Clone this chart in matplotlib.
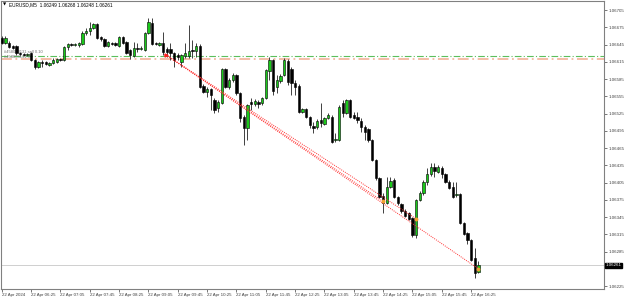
import numpy as np
import matplotlib
matplotlib.use('Agg')
import matplotlib.pyplot as plt

plt.rcParams['font.family'] = ['Liberation Sans', 'DejaVu Sans']

# EURUSD M5 candles, 22 Apr 2024 from 05:45
opens = [1.06656, 1.06648, 1.06648, 1.06642, 1.06642, 1.06630, 1.06628, 1.06627, 1.06630, 1.06618,
         1.06606, 1.06615, 1.06615, 1.06609, 1.06613, 1.06615, 1.06620, 1.06618, 1.06641, 1.06646,
         1.06644, 1.06644, 1.06646, 1.06665, 1.06669, 1.06674, 1.06681, 1.06658, 1.06655, 1.06642,
         1.06648, 1.06648, 1.06642, 1.06658, 1.06649, 1.06635, 1.06625, 1.06639, 1.06637, 1.06635,
         1.06665, 1.06682, 1.06648, 1.06644, 1.06648, 1.06637, 1.06637, 1.06630, 1.06627, 1.06615,
         1.06625, 1.06625, 1.06635, 1.06634, 1.06642, 1.06573, 1.06562, 1.06568, 1.06549, 1.06535,
         1.06543, 1.06602, 1.06571, 1.06583, 1.06592, 1.06561, 1.06519, 1.06500, 1.06545, 1.06542,
         1.06545, 1.06543, 1.06552, 1.06599, 1.06618, 1.06571, 1.06582, 1.06592, 1.06616, 1.06602,
         1.06578, 1.06573, 1.06528, 1.06533, 1.06519, 1.06503, 1.06502, 1.06514, 1.06507, 1.06517,
         1.06519, 1.06479, 1.06479, 1.06543, 1.06526, 1.06549, 1.06522, 1.06519, 1.06512, 1.06502,
         1.06498, 1.06479, 1.06444, 1.06413, 1.06382, 1.06369, 1.06397, 1.06409, 1.06380, 1.06368,
         1.06355, 1.06352, 1.06343, 1.06314, 1.06375, 1.06387, 1.06406, 1.06420, 1.06432, 1.06423,
         1.06430, 1.06420, 1.06406, 1.06397, 1.06383, 1.06385, 1.06335, 1.06317, 1.06305, 1.06274,
         1.06249]
highs = [1.06660, 1.06660, 1.06651, 1.06644, 1.06644, 1.06632, 1.06630, 1.06630, 1.06632, 1.06620,
         1.06616, 1.06618, 1.06616, 1.06615, 1.06622, 1.06622, 1.06622, 1.06642, 1.06648, 1.06648,
         1.06648, 1.06649, 1.06669, 1.06674, 1.06684, 1.06682, 1.06682, 1.06660, 1.06656, 1.06651,
         1.06649, 1.06649, 1.06660, 1.06660, 1.06651, 1.06637, 1.06649, 1.06648, 1.06642, 1.06667,
         1.06691, 1.06691, 1.06649, 1.06649, 1.06667, 1.06641, 1.06648, 1.06632, 1.06630, 1.06628,
         1.06648, 1.06679, 1.06653, 1.06648, 1.06646, 1.06576, 1.06571, 1.06569, 1.06552, 1.06549,
         1.06604, 1.06604, 1.06587, 1.06595, 1.06594, 1.06562, 1.06522, 1.06542, 1.06552, 1.06550,
         1.06549, 1.06554, 1.06602, 1.06623, 1.06620, 1.06592, 1.06594, 1.06622, 1.06620, 1.06606,
         1.06583, 1.06576, 1.06535, 1.06535, 1.06521, 1.06510, 1.06515, 1.06543, 1.06519, 1.06526,
         1.06522, 1.06491, 1.06540, 1.06549, 1.06550, 1.06550, 1.06528, 1.06528, 1.06517, 1.06505,
         1.06500, 1.06481, 1.06446, 1.06415, 1.06387, 1.06415, 1.06415, 1.06413, 1.06382, 1.06369,
         1.06359, 1.06354, 1.06345, 1.06376, 1.06390, 1.06409, 1.06430, 1.06439, 1.06439, 1.06435,
         1.06434, 1.06422, 1.06409, 1.06406, 1.06406, 1.06387, 1.06336, 1.06319, 1.06307, 1.06291,
         1.06268]
lows = [1.06646, 1.06646, 1.06639, 1.06637, 1.06627, 1.06625, 1.06625, 1.06625, 1.06616, 1.06602,
        1.06604, 1.06606, 1.06609, 1.06608, 1.06611, 1.06613, 1.06616, 1.06616, 1.06635, 1.06642,
        1.06642, 1.06641, 1.06644, 1.06662, 1.06662, 1.06672, 1.06655, 1.06651, 1.06641, 1.06641,
        1.06644, 1.06642, 1.06641, 1.06646, 1.06628, 1.06620, 1.06623, 1.06632, 1.06635, 1.06634,
        1.06663, 1.06644, 1.06644, 1.06642, 1.06627, 1.06623, 1.06618, 1.06606, 1.06618, 1.06606,
        1.06622, 1.06622, 1.06622, 1.06623, 1.06569, 1.06561, 1.06554, 1.06531, 1.06526, 1.06528,
        1.06542, 1.06569, 1.06568, 1.06580, 1.06557, 1.06510, 1.06470, 1.06479, 1.06531, 1.06538,
        1.06535, 1.06540, 1.06550, 1.06583, 1.06557, 1.06561, 1.06578, 1.06590, 1.06575, 1.06557,
        1.06557, 1.06526, 1.06526, 1.06517, 1.06500, 1.06491, 1.06498, 1.06502, 1.06505, 1.06515,
        1.06474, 1.06475, 1.06477, 1.06519, 1.06524, 1.06517, 1.06515, 1.06509, 1.06493, 1.06479,
        1.06475, 1.06442, 1.06409, 1.06378, 1.06352, 1.06368, 1.06395, 1.06378, 1.06366, 1.06352,
        1.06345, 1.06340, 1.06310, 1.06309, 1.06373, 1.06383, 1.06401, 1.06416, 1.06415, 1.06422,
        1.06413, 1.06404, 1.06394, 1.06378, 1.06380, 1.06333, 1.06314, 1.06298, 1.06268, 1.06239,
        1.06248]
closes = [1.06648, 1.06656, 1.06641, 1.06639, 1.06630, 1.06628, 1.06627, 1.06628, 1.06618, 1.06606,
          1.06615, 1.06613, 1.06611, 1.06613, 1.06618, 1.06620, 1.06618, 1.06641, 1.06646, 1.06644,
          1.06646, 1.06648, 1.06665, 1.06669, 1.06674, 1.06681, 1.06656, 1.06655, 1.06642, 1.06649,
          1.06646, 1.06644, 1.06658, 1.06648, 1.06630, 1.06627, 1.06639, 1.06637, 1.06639, 1.06665,
          1.06684, 1.06646, 1.06646, 1.06648, 1.06632, 1.06632, 1.06630, 1.06618, 1.06623, 1.06627,
          1.06630, 1.06634, 1.06634, 1.06642, 1.06571, 1.06562, 1.06568, 1.06557, 1.06531, 1.06545,
          1.06602, 1.06571, 1.06583, 1.06592, 1.06561, 1.06517, 1.06500, 1.06540, 1.06542, 1.06547,
          1.06542, 1.06552, 1.06601, 1.06618, 1.06564, 1.06583, 1.06590, 1.06618, 1.06580, 1.06578,
          1.06571, 1.06528, 1.06533, 1.06519, 1.06505, 1.06500, 1.06512, 1.06509, 1.06517, 1.06522,
          1.06475, 1.06481, 1.06536, 1.06526, 1.06549, 1.06519, 1.06517, 1.06514, 1.06502, 1.06493,
          1.06479, 1.06444, 1.06413, 1.06380, 1.06369, 1.06397, 1.06408, 1.06380, 1.06369, 1.06355,
          1.06347, 1.06342, 1.06314, 1.06375, 1.06387, 1.06406, 1.06420, 1.06432, 1.06425, 1.06432,
          1.06420, 1.06406, 1.06395, 1.06380, 1.06385, 1.06335, 1.06315, 1.06305, 1.06270, 1.06248,
          1.06261]

time_labels = ['22 Apr 2024', '22 Apr 06:25', '22 Apr 07:05', '22 Apr 07:45', '22 Apr 08:25',
               '22 Apr 09:05', '22 Apr 09:45', '22 Apr 10:25', '22 Apr 11:05', '22 Apr 11:45',
               '22 Apr 12:25', '22 Apr 13:05', '22 Apr 13:45', '22 Apr 14:25', '22 Apr 15:05',
               '22 Apr 15:45', '22 Apr 16:25']
price_ticks = [1.06705, 1.06675, 1.06645, 1.06615, 1.06585, 1.06555, 1.06525, 1.06495, 1.06465,
               1.06435, 1.06405, 1.06375, 1.06345, 1.06315, 1.06285, 1.06225]

# order levels and trade history lines
level_tp = 1.06625
level_sl = 1.06619
trade_open = (44.8, 1.06627)
trade_closes = [(104, 1.06372), (113, 1.06342), (130, 1.06255)]
bid = 1.06261

n = len(opens)
idx = np.arange(n)
o = np.array(opens); h = np.array(highs); l = np.array(lows); c = np.array(closes)

fig = plt.figure(figsize=(6.25, 2.99), dpi=100)
ax = fig.add_axes([1/625, 10/299, 603/625, 288/299])

green = '#19c819'
up = c >= o
ax.vlines(idx, l, h, color='#404040', linewidth=0.7, zorder=3)
body = np.where(np.abs(c - o) < 0.000008, 0.000008, c - o)
ax.bar(idx[up], body[up], bottom=o[up], width=0.62, color=green,
       edgecolor='black', linewidth=0.4, zorder=4)
ax.bar(idx[~up], body[~up], bottom=o[~up], width=0.62, color='black',
       edgecolor='black', linewidth=0.4, zorder=4)

# horizontal order lines
ax.axhline(level_tp, color='#5cbf5c', linestyle=(0, (6, 2, 1, 2)), linewidth=0.8, zorder=2)
ax.axhline(level_sl, color='#f3b8a0', linestyle=(0, (6, 2, 1, 2)), linewidth=1.3, zorder=2)
ax.axhline(bid, color='#c8c8c8', linewidth=0.6, zorder=1)
ax.text(0.6, level_tp + 0.00003, '#458003131 sell 0.10', fontsize=3.0, color='#707070', va='bottom')
ax.text(0.6, level_tp - 0.00001, '#458003131 sl', fontsize=3.0, color='#707070', va='center')

# trade history dotted lines
for xe, ye in trade_closes:
    ax.plot([trade_open[0], xe], [trade_open[1], ye], color='#ff3030',
            linestyle=(0, (1, 1.2)), linewidth=0.7, zorder=5)
    ax.plot(xe, ye, marker='o', markersize=1.8, color='#f0a030', zorder=6)
ax.plot(trade_open[0], trade_open[1], marker='>', markersize=2.2, color='#ff2020', zorder=6)

ax.set_xlim(-0.19, 164.25)
ax.set_ylim(1.062198, 1.067207)

ax.yaxis.tick_right()
ax.set_yticks(price_ticks)
ax.set_yticklabels([f'{p:.5f}' for p in price_ticks], fontsize=3.2, color='#202020')
ax.tick_params(axis='y', length=2, width=0.5, pad=1.5, colors='#404040')
ax.set_xticks(np.arange(0, 8 * len(time_labels), 8))
ax.set_xticklabels(time_labels, fontsize=3.2, color='#202020', ha='left')
ax.tick_params(axis='x', length=2, width=0.5, pad=1.2, colors='#404040')
for s in ax.spines.values():
    s.set_color('#808080')
    s.set_linewidth(0.8)

# current price box
ax.text(1.003, bid, '1.06261', transform=ax.get_yaxis_transform(), fontsize=3.2,
        color='white', va='center', ha='left',
        bbox=dict(boxstyle='square,pad=0.15', facecolor='black', edgecolor='black'))

# header
fig.text(3/625, 1 - 5/299, '\u25bc', fontsize=3, color='black', va='center',
         family=['DejaVu Sans'])
fig.text(9/625, 1 - 5/299, 'EURUSD,M5  1.06249 1.06268 1.06248 1.06261', fontsize=3.4,
         color='black', va='center')

fig.savefig('out.png', dpi=100)
